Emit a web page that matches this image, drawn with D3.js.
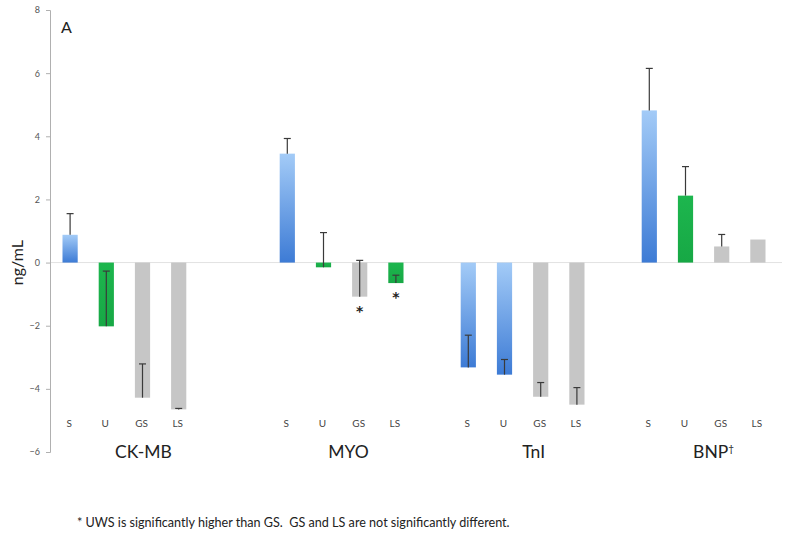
<!DOCTYPE html>
<html>
<head>
<meta charset="utf-8">
<script src="https://cdn.jsdelivr.net/npm/d3@7"></script>
<style>
  html, body { margin: 0; padding: 0; background: #fff; }
  svg { display: block; }
</style>
</head>
<body>
<svg id="chart" width="800" height="545"></svg>
<script>
// ---------------- DATA ----------------
const groups = ["CK-MB", "MYO", "TnI", "BNP"];
const conditions = ["S", "U", "GS", "LS"];
const ckmbValues = [0.88, -2.02, -4.28, -4.65];
const myoValues  = [3.45, -0.15, -1.08, -0.65];
const tniValues  = [-3.32, -3.55, -4.25, -4.50];
const bnpValues  = [4.82, 2.12, 0.51, 0.73];
const ckmbErrors = [0.67, 1.75, 1.07, 0.03];
const myoErrors  = [0.48, 1.10, 1.15, 0.25];
const tniErrors  = [1.02, 0.48, 0.45, 0.54];
const bnpErrors  = [1.33, 0.92, 0.38, 0.00];
const significant = [["MYO", "GS"], ["MYO", "LS"]];
const yTicks = [-6, -4, -2, 0, 2, 4, 6, 8];
const footnote = "* UWS is significantly higher than GS.  GS and LS are not significantly different.";

// ---------------- STYLE ----------------
const fillKinds = {
  "CK-MB": ["blue", "green", "gray", "gray"],
  "MYO":   ["blue", "green", "gray", "green"],
  "TnI":   ["blue", "blue", "gray", "gray"],
  "BNP":   ["blue", "green", "gray", "gray"]
};
const groupGapAfter = [1, 0, 0, 0]; // extra empty slots after each group (layout)
const groupLabelShift = [19, 7, 11, 10];

const valuesByGroup = { "CK-MB": ckmbValues, "MYO": myoValues, "TnI": tniValues, "BNP": bnpValues };
const errorsByGroup = { "CK-MB": ckmbErrors, "MYO": myoErrors, "TnI": tniErrors, "BNP": bnpErrors };

// build slots
const slots = [];
const bars = [];
groups.forEach((g, gi) => {
  conditions.forEach((c, ci) => {
    const key = g + "|" + c;
    slots.push(key);
    bars.push({ group: g, cond: c, key, value: valuesByGroup[g][ci], err: errorsByGroup[g][ci], kind: fillKinds[g][ci] });
  });
  if (gi < groups.length - 1) {
    for (let k = 0; k <= groupGapAfter[gi]; k++) slots.push("gap" + gi + "_" + k);
  }
});

const svg = d3.select("#chart");
const defs = svg.append("defs");
const blueGrad = defs.append("linearGradient").attr("id", "blueGrad").attr("x1", 0).attr("y1", 0).attr("x2", 0).attr("y2", 1);
blueGrad.append("stop").attr("offset", "0%").attr("stop-color", "#a3cbf7");
blueGrad.append("stop").attr("offset", "100%").attr("stop-color", "#3d7bd5");
const greenGrad = defs.append("linearGradient").attr("id", "greenGrad").attr("x1", 0).attr("y1", 0).attr("x2", 0).attr("y2", 1);
greenGrad.append("stop").attr("offset", "0%").attr("stop-color", "#1db64e");
greenGrad.append("stop").attr("offset", "100%").attr("stop-color", "#17a845");
const fills = { blue: "url(#blueGrad)", green: "url(#greenGrad)", gray: "#c6c6c6" };

const x = d3.scaleBand().domain(slots).range([52, 776]).paddingInner(0.58).paddingOuter(0.29);
const y = d3.scaleLinear().domain([-6, 8]).range([452, 10]);

const font = "Lato, 'Open Sans', sans-serif";

// zero line
svg.append("line")
  .attr("x1", 50).attr("x2", 782)
  .attr("y1", y(0)).attr("y2", y(0))
  .attr("stroke", "#e2e2e2").attr("stroke-width", 1);

// y axis
const yAxis = d3.axisLeft(y).tickValues(yTicks).tickSize(4).tickPadding(6).tickFormat(d3.format("d"));
const yg = svg.append("g").attr("transform", "translate(50,0)").call(yAxis);
yg.select(".domain").attr("stroke", "#b0b0b0");
yg.selectAll(".tick line").attr("stroke", "#b0b0b0");
yg.selectAll(".tick text").attr("fill", "#555").style("font-family", font).style("font-size", "9px");

// bars
svg.append("g").selectAll("rect").data(bars).join("rect")
  .attr("x", d => x(d.key))
  .attr("width", x.bandwidth())
  .attr("y", d => y(Math.max(0, d.value)))
  .attr("height", d => Math.abs(y(d.value) - y(0)))
  .attr("fill", d => fills[d.kind]);

// error bars (plus direction)
const eb = svg.append("g").attr("stroke", "#3a3a3a").attr("stroke-width", 1.2);
bars.filter(d => d.err > 0).forEach(d => {
  const cx = x(d.key) + x.bandwidth() / 2;
  eb.append("line").attr("x1", cx).attr("x2", cx).attr("y1", y(d.value)).attr("y2", y(d.value + d.err));
  eb.append("line").attr("x1", cx - 3.5).attr("x2", cx + 3.5).attr("y1", y(d.value + d.err)).attr("y2", y(d.value + d.err));
});

// significance stars
significant.forEach(([g, c]) => {
  const d = bars.find(b => b.group === g && b.cond === c);
  svg.append("text")
    .attr("x", x(d.key) + x.bandwidth() / 2)
    .attr("y", y(Math.min(0, d.value)) + 19)
    .attr("text-anchor", "middle")
    .style("font-family", "'DejaVu Sans', sans-serif").style("font-size", "14px").style("font-weight", "bold").attr("fill", "#222")
    .text("*");
});

// condition labels
svg.append("g").selectAll("text").data(bars).join("text")
  .attr("x", d => x(d.key) + x.bandwidth() / 2 - 1)
  .attr("y", 427)
  .attr("text-anchor", "middle")
  .style("font-family", font).style("font-size", "10px").attr("fill", "#444")
  .text(d => d.cond);

// group labels
groups.forEach((g, gi) => {
  const first = x(g + "|S"), last = x(g + "|LS") + x.bandwidth();
  const t = svg.append("text")
    .attr("x", (first + last) / 2 + groupLabelShift[gi])
    .attr("y", 458)
    .attr("text-anchor", "middle")
    .style("font-family", font).style("font-size", "17.5px").attr("fill", "#222");
  t.append("tspan").text(g);
  if (g === "BNP") t.append("tspan").attr("dy", -6).style("font-size", "10px").text("†");
});

// y label
svg.append("text")
  .attr("transform", `translate(23,${y(0)}) rotate(-90)`)
  .attr("text-anchor", "middle")
  .style("font-family", font).style("font-size", "16px").attr("fill", "#222")
  .text("ng/mL");

// panel letter
svg.append("text").attr("x", 61).attr("y", 33)
  .style("font-family", font).style("font-size", "16px").attr("fill", "#222")
  .text("A");

// footnote
svg.append("text").attr("x", 77).attr("y", 527)
  .attr("xml:space", "preserve").style("white-space", "pre")
  .style("font-family", font).style("font-size", "12.6px").attr("fill", "#222")
  .text(footnote);
</script>
</body>
</html>
